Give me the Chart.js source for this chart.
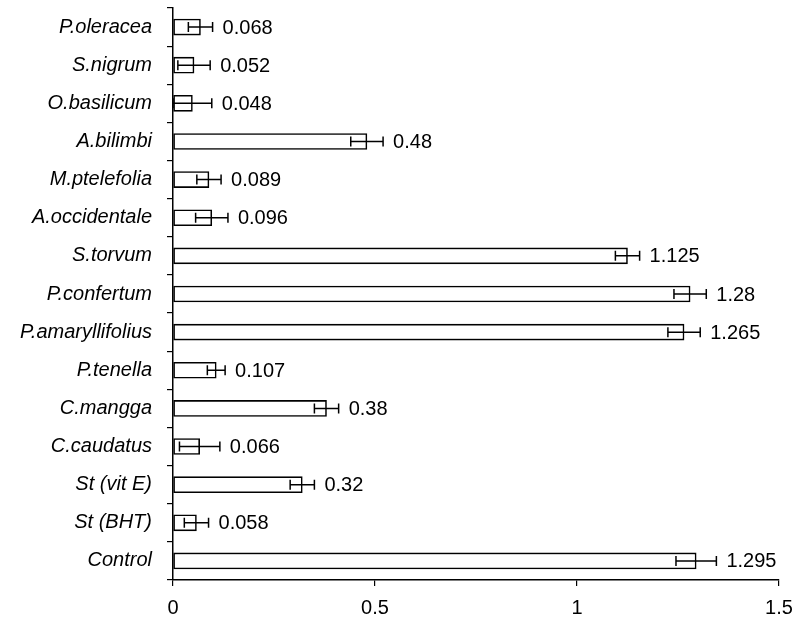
<!DOCTYPE html>
<html>
<head>
<meta charset="utf-8">
<script src="https://cdn.jsdelivr.net/npm/chart.js@4/dist/chart.umd.min.js"></script>
<style>
  html, body { margin: 0; padding: 0; background: #fff; }
  canvas { display: block; }
</style>
</head>
<body>
<canvas id="c" width="799" height="622"></canvas>
<script>
const categories = ['P.oleracea', 'S.nigrum', 'O.basilicum', 'A.bilimbi', 'M.ptelefolia', 'A.occidentale', 'S.torvum', 'P.confertum', 'P.amaryllifolius', 'P.tenella', 'C.mangga', 'C.caudatus', 'St (vit E)', 'St (BHT)', 'Control'];
const values = [0.068, 0.052, 0.048, 0.48, 0.089, 0.096, 1.125, 1.28, 1.265, 0.107, 0.38, 0.066, 0.32, 0.058, 1.295];
const errors = [0.03, 0.04, 0.048, 0.04, 0.03, 0.04, 0.03, 0.04, 0.04, 0.022, 0.03, 0.05, 0.03, 0.03, 0.05];
const xTicks = [0, 0.5, 1, 1.5];

const FONT = "'Liberation Sans', Arial, Helvetica, sans-serif";

function zeroPadding(scale) {
  scale.paddingTop = 0;
  scale.paddingBottom = 0;
  scale.paddingLeft = 0;
  scale.paddingRight = 0;
}

const errorBarPlugin = {
  id: 'errorBars',
  afterDatasetsDraw(chart) {
    const ctx = chart.ctx;
    const xs = chart.scales.x;
    const meta = chart.getDatasetMeta(0);
    ctx.save();
    ctx.strokeStyle = '#000';
    ctx.lineWidth = 1.5;
    ctx.fillStyle = '#000';
    ctx.font = '20px ' + FONT;
    ctx.textAlign = 'left';
    ctx.textBaseline = 'middle';
    meta.data.forEach((bar, i) => {
      const y = bar.y;
      const lo = xs.getPixelForValue(Math.max(0, values[i] - errors[i]));
      const hi = xs.getPixelForValue(values[i] + errors[i]);
      const cap = 5;
      ctx.beginPath();
      ctx.moveTo(lo, y); ctx.lineTo(hi, y);
      ctx.moveTo(lo, y - cap); ctx.lineTo(lo, y + cap);
      ctx.moveTo(hi, y - cap); ctx.lineTo(hi, y + cap);
      ctx.stroke();
      ctx.fillText(String(values[i]), hi + 10, y + 1);
    });
    ctx.restore();
  }
};

new Chart(document.getElementById('c'), {
  type: 'bar',
  data: {
    labels: categories,
    datasets: [{
      data: values,
      backgroundColor: '#ffffff',
      borderColor: '#000000',
      borderWidth: 1.6,
      borderSkipped: false,
      barThickness: 16
    }]
  },
  options: {
    indexAxis: 'y',
    responsive: false,
    animation: false,
    devicePixelRatio: 1,
    layout: { autoPadding: false, padding: { top: 8, right: 20, left: 0, bottom: 0 } },
    plugins: { legend: { display: false }, tooltip: { enabled: false } },
    scales: {
      x: {
        type: 'linear',
        min: 0,
        max: 1.5,
        afterBuildTicks(scale) { scale.ticks = xTicks.map(v => ({ value: v })); },
        afterFit(scale) { scale.height = 42; zeroPadding(scale); },
        grid: { drawOnChartArea: false, drawTicks: true, tickLength: 6, color: '#000', lineWidth: 1.2 },
        border: { display: true, color: '#000', width: 1.5 },
        ticks: { color: '#000', font: { family: FONT, size: 20 }, padding: 10, maxRotation: 0, callback: v => String(v) }
      },
      y: {
        type: 'category',
        afterFit(scale) { scale.width = 173; zeroPadding(scale); },
        grid: { drawOnChartArea: false, drawTicks: true, tickLength: 6, offset: true, color: '#000', lineWidth: 1.2 },
        border: { display: true, color: '#000', width: 1.5 },
        ticks: { color: '#000', font: { family: FONT, size: 20, style: 'italic' }, padding: 15, autoSkip: false }
      }
    }
  },
  plugins: [errorBarPlugin]
});
</script>
</body>
</html>
